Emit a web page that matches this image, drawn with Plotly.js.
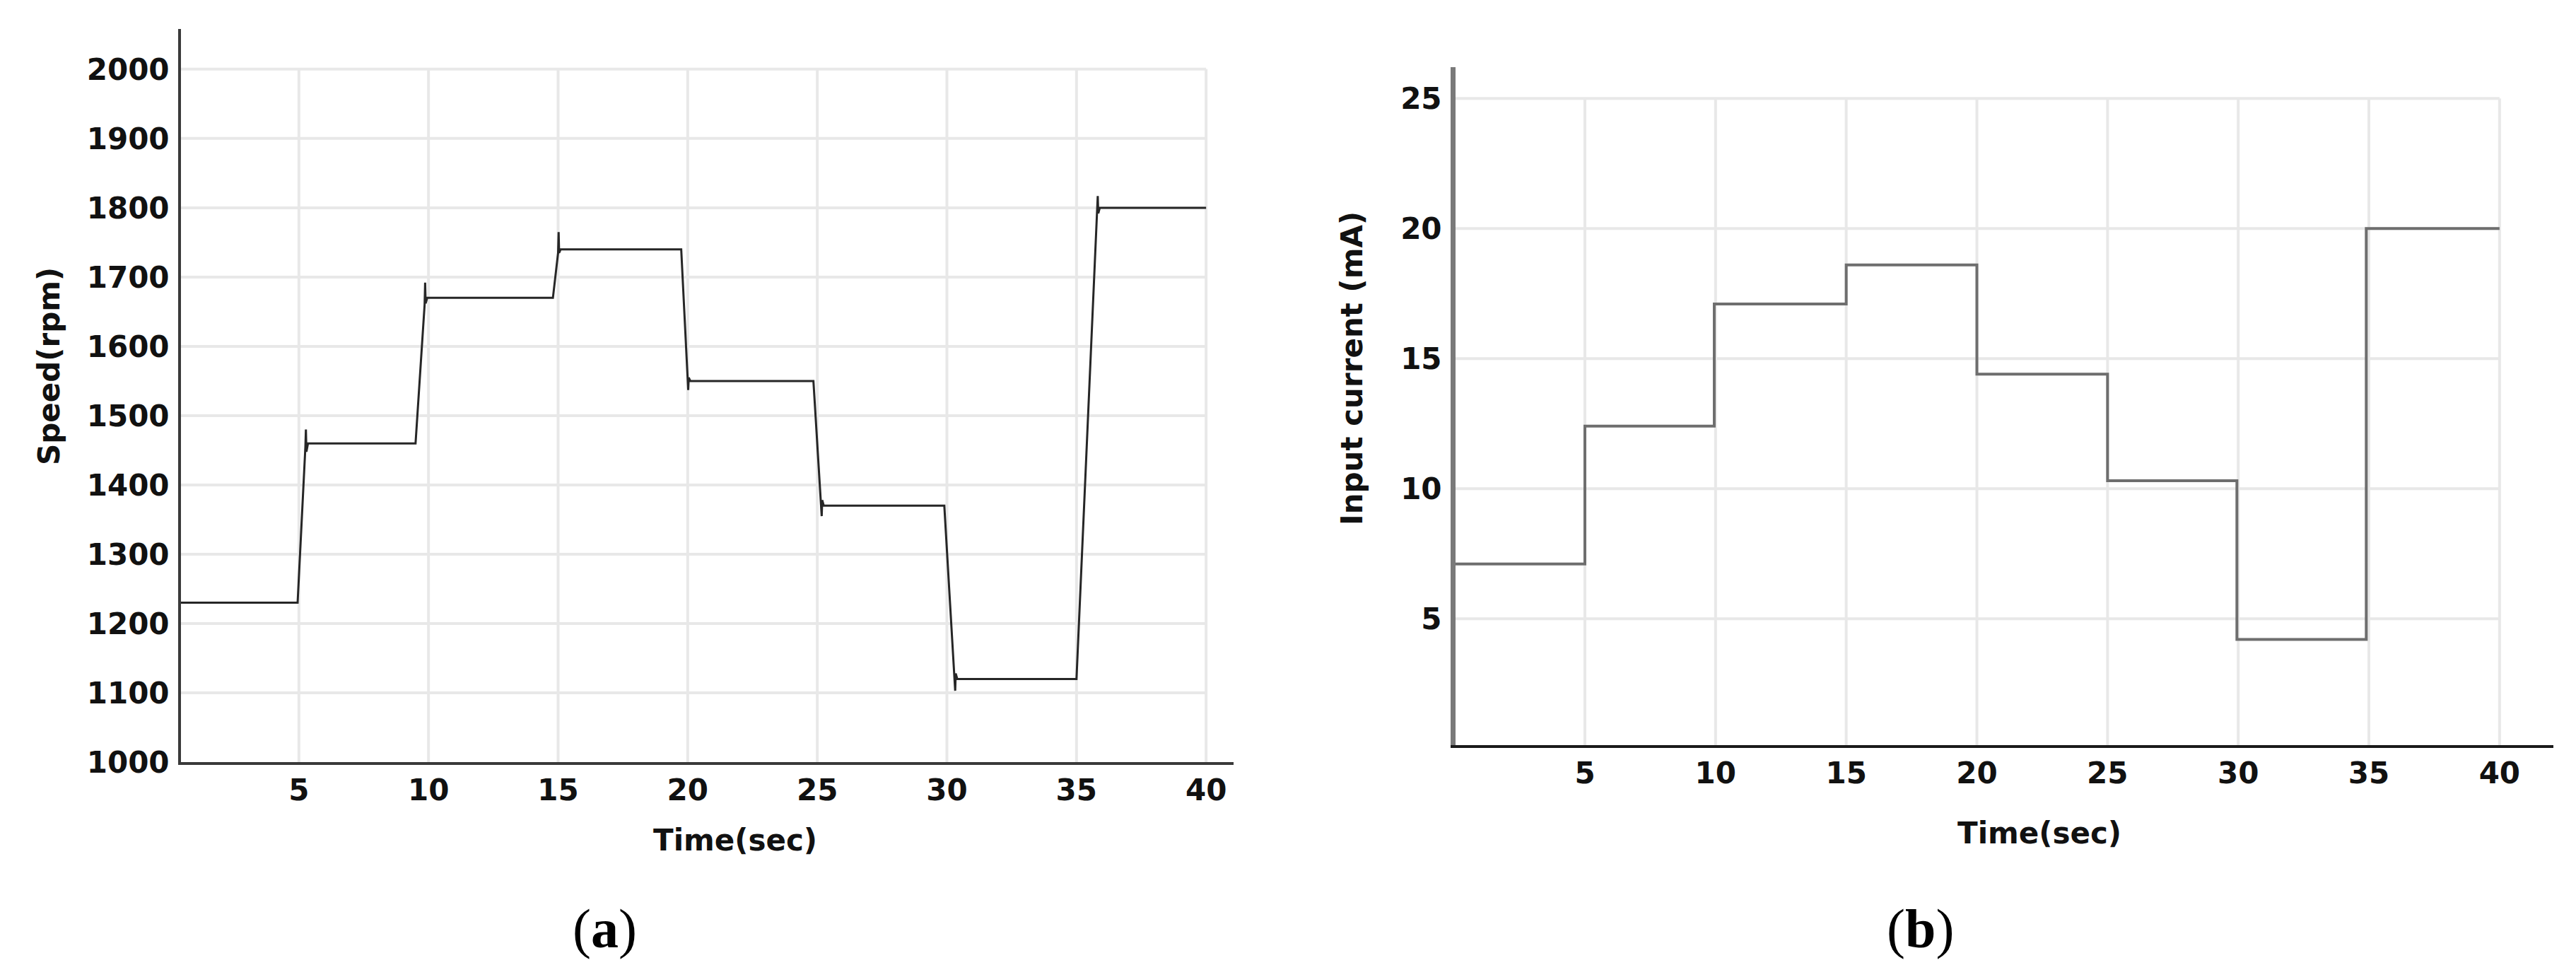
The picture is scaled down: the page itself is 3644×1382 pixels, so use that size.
<!DOCTYPE html>
<html><head><meta charset="utf-8">
<script src="https://cdn.plot.ly/plotly-3.0.1.min.js"></script>
<style>html,body{margin:0;padding:0;background:#fff}#chart{width:3644px;height:1382px}</style>
</head><body><div id="chart"></div>
<script>
// Panel (a): motor speed (rpm) vs time (s)
const speedTime = [0, 4.95, 5.25, 5.27, 5.29, 5.35, 9.5, 9.85, 9.87, 9.89, 9.95, 14.8, 15.0, 15.02, 15.04, 15.1,
  19.75, 20.0, 20.02, 20.04, 20.1, 24.85, 25.15, 25.17, 25.19, 25.25, 29.9, 30.3, 30.32, 30.34, 30.4,
  35.0, 35.8, 35.82, 35.84, 35.9, 40.0];
const speedRpm = [1230, 1230, 1455, 1480, 1448, 1460, 1460, 1660, 1692, 1662, 1670, 1670, 1735, 1765, 1735, 1740,
  1740, 1555, 1537, 1555, 1550, 1550, 1375, 1355, 1378, 1370, 1370, 1125, 1103, 1128, 1120,
  1120, 1795, 1817, 1792, 1800, 1800];
// Panel (b): input current (mA) vs time (s), step changes every 5 s
const currentTime = [0, 5, 9.95, 15, 20, 25, 29.95, 34.9, 40];
const currentMA = [7.1, 12.4, 17.1, 18.6, 14.4, 10.3, 4.2, 20.0, 20.0];
// Tick labels
const timeTicks = [5, 10, 15, 20, 25, 30, 35, 40];
const speedTicks = [1000, 1100, 1200, 1300, 1400, 1500, 1600, 1700, 1800, 1900, 2000];
const currentTicks = [5, 10, 15, 20, 25];

const W = 3644, H = 1382;
const px = v => v / W, py = v => 1 - v / H;
const xRangeA = [0.45, 41.06], yRangeA = [1000, 2058];
const xRangeB = [0.05, 42.06], yRangeB = [0.14, 26.2];
const gridColor = '#e8e8e8';

const shapes = [];
timeTicks.forEach(t => shapes.push({type:'line', xref:'x', yref:'y', x0:t, x1:t, y0:speedTicks[0], y1:speedTicks[speedTicks.length-1], line:{color:gridColor, width:4}, layer:'below'}));
speedTicks.slice(1).forEach(v => shapes.push({type:'line', xref:'x', yref:'y', x0:xRangeA[0], x1:timeTicks[timeTicks.length-1], y0:v, y1:v, line:{color:gridColor, width:4}, layer:'below'}));
timeTicks.forEach(t => shapes.push({type:'line', xref:'x2', yref:'y2', x0:t, x1:t, y0:yRangeB[0], y1:currentTicks[currentTicks.length-1], line:{color:gridColor, width:4}, layer:'below'}));
currentTicks.forEach(v => shapes.push({type:'line', xref:'x2', yref:'y2', x0:xRangeB[0], x1:timeTicks[timeTicks.length-1], y0:v, y1:v, line:{color:gridColor, width:4}, layer:'below'}));

const tickFont = {family:'DejaVu Sans, sans-serif', size:42, color:'#111', weight:700};
const titleFont = {family:'DejaVu Sans, sans-serif', size:42, color:'#111', weight:700};

const traces = [
  {x: speedTime, y: speedRpm, type:'scatter', mode:'lines', xaxis:'x', yaxis:'y', line:{color:'#262626', width:3}, showlegend:false},
  {x: currentTime, y: currentMA, type:'scatter', mode:'lines', xaxis:'x2', yaxis:'y2', line:{color:'#6e6e6e', width:4, shape:'hv'}, showlegend:false}
];

const axisCommon = {showgrid:false, zeroline:false, ticks:'', showline:true, tickfont:tickFont, fixedrange:true};

const layout = {
  width: W, height: H,
  margin: {l:0, r:0, t:0, b:0},
  paper_bgcolor:'#fff', plot_bgcolor:'#fff',
  showlegend:false,
  xaxis: Object.assign({}, axisCommon, {domain:[px(256), px(1745)], range:xRangeA, tickvals:timeTicks, ticktext:timeTicks.map(String), linecolor:'#3a3a3a', linewidth:4, anchor:'y', ticklabelstandoff:0}),
  yaxis: Object.assign({}, axisCommon, {domain:[py(1078), py(41)], range:yRangeA, tickvals:speedTicks, ticktext:speedTicks.map(String), linecolor:'#3a3a3a', linewidth:4, anchor:'x', ticklabelstandoff:4}),
  xaxis2: Object.assign({}, axisCommon, {domain:[px(2059), px(3612)], range:xRangeB, tickvals:timeTicks, ticktext:timeTicks.map(String), linecolor:'#1a1a1a', linewidth:4, anchor:'y2', ticklabelstandoff:0}),
  yaxis2: Object.assign({}, axisCommon, {domain:[py(1054), py(95)], range:yRangeB, tickvals:currentTicks, ticktext:currentTicks.map(String), linecolor:'#7a7a7a', linewidth:7, anchor:'x2', ticklabelstandoff:4}),
  shapes: shapes,
  annotations: [
    {text:'Speed(rpm)', x:px(70), y:py(518), xref:'paper', yref:'paper', textangle:-90, showarrow:false, font:titleFont, xanchor:'center', yanchor:'middle'},
    {text:'Time(sec)', x:px(1040), y:py(1188), xref:'paper', yref:'paper', showarrow:false, font:titleFont, xanchor:'center', yanchor:'middle'},
    {text:'Input current (mA)', x:px(1912), y:py(521), xref:'paper', yref:'paper', textangle:-90, showarrow:false, font:titleFont, xanchor:'center', yanchor:'middle'},
    {text:'Time(sec)', x:px(2885), y:py(1178), xref:'paper', yref:'paper', showarrow:false, font:titleFont, xanchor:'center', yanchor:'middle'},
    {text:'(<b>a</b>)', x:px(855), y:py(1313), xref:'paper', yref:'paper', showarrow:false, font:{family:'Liberation Serif, serif', size:78, color:'#000'}, xanchor:'center', yanchor:'middle'},
    {text:'(<b>b</b>)', x:px(2716), y:py(1313), xref:'paper', yref:'paper', showarrow:false, font:{family:'Liberation Serif, serif', size:78, color:'#000'}, xanchor:'center', yanchor:'middle'}
  ]
};

Plotly.newPlot('chart', traces, layout, {staticPlot:true, displayModeBar:false});
</script>
</body></html>
